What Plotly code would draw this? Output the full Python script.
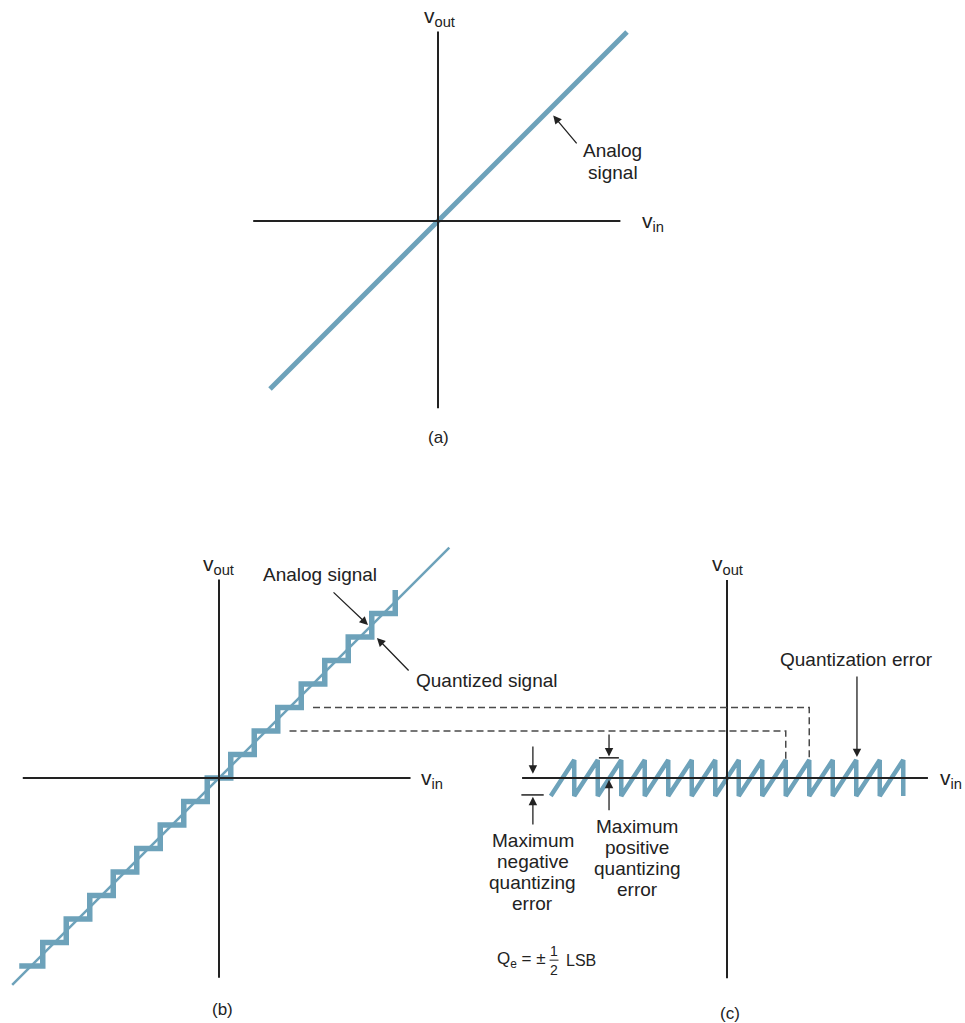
import plotly.graph_objects as go

W, H = 965, 1023
BLUE = '#6da2ba'
INK = '#222222'
DASHC = '#4a4a4a'
FONT = 'Liberation Sans, Arial, Helvetica, sans-serif'

# ---------------- data (units: LSB) ----------------
# Panel (a): analog transfer characteristic
a_axis_h = [-7.7, 7.6]
a_axis_v = [-7.8, 7.9]
a_analog_vin = [-7.0, 7.875]
a_analog_vout = [-7.0, 7.875]

# Panel (b): quantized staircase
b_axis_h = [-8.35, 8.15]
b_axis_v = [-8.5, 8.45]
b_analog_vin = [-8.8, 9.8]
b_analog_vout = [-8.8, 9.8]
b_levels = [-8, -7, -6, -5, -4, -3, -2, -1, 0, 1, 2, 3, 4, 5, 6, 7]
b_top = 8
b_half = 0.5

# Panel (c): quantization error sawtooth
c_axis_h = [-8.72, 8.55]
c_axis_v = [-5.56, 5.5]
c_tooth_centers = [-7, -6, -5, -4, -3, -2, -1, 0, 1, 2, 3, 4, 5, 6, 7]
c_err_max = 0.5

# Dashed leaders from (b) treads to (c) error peaks
dash_levels_b = [3, 2]
dash_start_b = [4.0, 3.0]
dash_drop_c = [3.5, 2.5]

# ---------------- panel placement ----------------
PANELS = {
    'a': dict(ox=438, oy=221, sx=24.0, sy=24.0, box=(230, 700, 0, 450)),
    'b': dict(ox=219, oy=778, sx=23.5, sy=23.5, box=(0, 470, 540, 1023)),
    'c': dict(ox=727, oy=778, sx=23.5, sy=36.0, box=(470, 965, 540, 1023)),
}
AX = {'a': ('x', 'y'), 'b': ('x2', 'y2'), 'c': ('x3', 'y3')}


def axes_for(p):
    d = PANELS[p]
    x0, x1, y0, y1 = d['box']
    xa = dict(domain=[x0 / W, x1 / W], range=[(x0 - d['ox']) / d['sx'], (x1 - d['ox']) / d['sx']],
              visible=False, fixedrange=True)
    ya = dict(domain=[1 - y1 / H, 1 - y0 / H], range=[(d['oy'] - y1) / d['sy'], (d['oy'] - y0) / d['sy']],
              visible=False, fixedrange=True)
    return xa, ya


def to_paper(p, X, Y):
    d = PANELS[p]
    px = d['ox'] + X * d['sx']
    py = d['oy'] - Y * d['sy']
    return px / W, 1 - py / H


fig = go.Figure()


def line(p, xs, ys, color, width, dash=None):
    xr, yr = AX[p]
    fig.add_trace(go.Scatter(x=xs, y=ys, mode='lines', xaxis=xr, yaxis=yr,
                             line=dict(color=color, width=width, dash=dash),
                             hoverinfo='skip', showlegend=False))


def text(p, X, Y, s, size=19, xanchor='center', yanchor='middle'):
    xr, yr = AX[p]
    fig.add_annotation(x=X, y=Y, xref=xr, yref=yr, text=s, showarrow=False,
                       xanchor=xanchor, yanchor=yanchor, font=dict(size=size, color=INK, family=FONT))


def arrow(p, tail, head):
    xr, yr = AX[p]
    fig.add_annotation(x=head[0], y=head[1], ax=tail[0], ay=tail[1], xref=xr, yref=yr,
                       axref=xr, ayref=yr, text='', showarrow=True, arrowhead=2,
                       arrowsize=1.3, arrowwidth=1.3, arrowcolor=INK)


def lines_block(p, X, py_list, lines, size=19):
    d = PANELS[p]
    for (py, s) in zip(py_list, lines):
        text(p, X, (d['oy'] - py) / d['sy'], s, size=size)


VSIZE = 21

# ---------------- panel (a) ----------------
line('a', a_analog_vin, a_analog_vout, BLUE, 5)
line('a', a_axis_h, [0, 0], INK, 2)
line('a', [0, 0], a_axis_v, INK, 2)
text('a', 0.08, 8.5, 'v<sub>out</sub>', size=VSIZE)
text('a', 8.96, -0.05, 'v<sub>in</sub>', size=VSIZE)
lines_block('a', 7.29, [150, 172], ['Analog', 'signal'])
arrow('a', (5.83, 3.17), (4.8, 4.4))
text('a', 0.0, -9.0, '(a)', size=17)

# ---------------- panel (b) ----------------
stx, sty = [], []
for k in b_levels:
    stx += [k - b_half, k + b_half]
    sty += [k, k]
stx.append(b_levels[-1] + b_half)
sty.append(b_top)
line('b', stx, sty, BLUE, 5.5)
line('b', b_analog_vin, b_analog_vout, BLUE, 2.5)
line('b', b_axis_h, [0, 0], INK, 2)
line('b', [0, 0], b_axis_v, INK, 2)
text('b', -0.04, 9.06, 'v<sub>out</sub>', size=VSIZE)
text('b', 9.06, -0.05, 'v<sub>in</sub>', size=VSIZE)
text('b', 4.3, 8.64, 'Analog signal')
arrow('b', (4.81, 7.96), (6.34, 6.51))
text('b', 8.3, 4.17, 'Quantized signal', xanchor='left')
arrow('b', (8.13, 4.51), (6.72, 5.96))
text('b', 0.13, -9.87, '(b)', size=17)

# ---------------- panel (c) ----------------
tx, ty = [], []
for k in c_tooth_centers:
    tx += [k - 0.5, k + 0.5, k + 0.5]
    ty += [-c_err_max, c_err_max, -c_err_max]
line('c', tx, ty, BLUE, 4.5)
line('c', c_axis_h, [0, 0], INK, 2)
line('c', [0, 0], c_axis_v, INK, 2)
text('c', 0.04, 5.92, 'v<sub>out</sub>', size=VSIZE)
text('c', 10.1, -0.02, 'v<sub>in</sub>', size=VSIZE, xanchor='right')
text('c', 5.53, 3.28, 'Quantization error')
arrow('c', (5.53, 2.86), (5.53, 0.58))

# max negative error dimension marks
neg_x = -8.26
arrow('c', (neg_x, 0.92), (neg_x, 0.12))
line('c', [-8.75, -7.8], [-0.47, -0.47], INK, 1.5)
arrow('c', (neg_x, -1.33), (neg_x, -0.52))
lines_block('c', neg_x, [840, 861, 882, 903], ['Maximum', 'negative', 'quantizing', 'error'])

# max positive error dimension marks
pos_x = -5.02
arrow('c', (pos_x, 1.25), (pos_x, 0.6))
line('c', [-5.45, -4.6], [0.56, 0.56], INK, 1.5)
arrow('c', (pos_x, -0.94), (pos_x, -0.05))
lines_block('c', -3.83, [826, 847, 868, 889], ['Maximum', 'positive', 'quantizing', 'error'])

# Qe = ± 1/2 LSB
text('c', -7.62, -5.06, 'Q<sub>e</sub> = ±', size=17, xanchor='right')
text('c', -7.36, -4.81, '1', size=14)
text('c', -7.36, -5.33, '2', size=14)
line('c', [-7.55, -7.17], [-5.06, -5.06], INK, 1)
text('c', -6.94, -5.06, 'LSB', size=16, xanchor='left')
text('c', 0.13, -6.53, '(c)', size=17)

# dashed leaders between (b) and (c)
for lvl, xs_b, xd_c in zip(dash_levels_b, dash_start_b, dash_drop_c):
    p0 = to_paper('b', xs_b, lvl)
    p1 = (to_paper('c', xd_c, 0)[0], p0[1])
    p2 = to_paper('c', xd_c, c_err_max)
    path = 'M {} {} L {} {} L {} {}'.format(p0[0], p0[1], p1[0], p1[1], p2[0], p2[1])
    fig.add_shape(type='path', path=path, xref='paper', yref='paper',
                  line=dict(color=DASHC, width=1.5, dash='7px,4px'))

xa, ya = axes_for('a')
xb, yb = axes_for('b')
xc, yc = axes_for('c')
fig.update_layout(
    width=W, height=H, margin=dict(l=0, r=0, t=0, b=0),
    paper_bgcolor='white', plot_bgcolor='rgba(0,0,0,0)',
    font=dict(family=FONT, size=19, color=INK),
    showlegend=False,
    xaxis=dict(xa, anchor='y'), yaxis=dict(ya, anchor='x'),
    xaxis2=dict(xb, anchor='y2'), yaxis2=dict(yb, anchor='x2'),
    xaxis3=dict(xc, anchor='y3'), yaxis3=dict(yc, anchor='x3'),
)

fig.write_html('out.html', config={'displayModeBar': False, 'staticPlot': True},
               post_script="document.body.style.margin='0';document.body.style.overflow='hidden';")
